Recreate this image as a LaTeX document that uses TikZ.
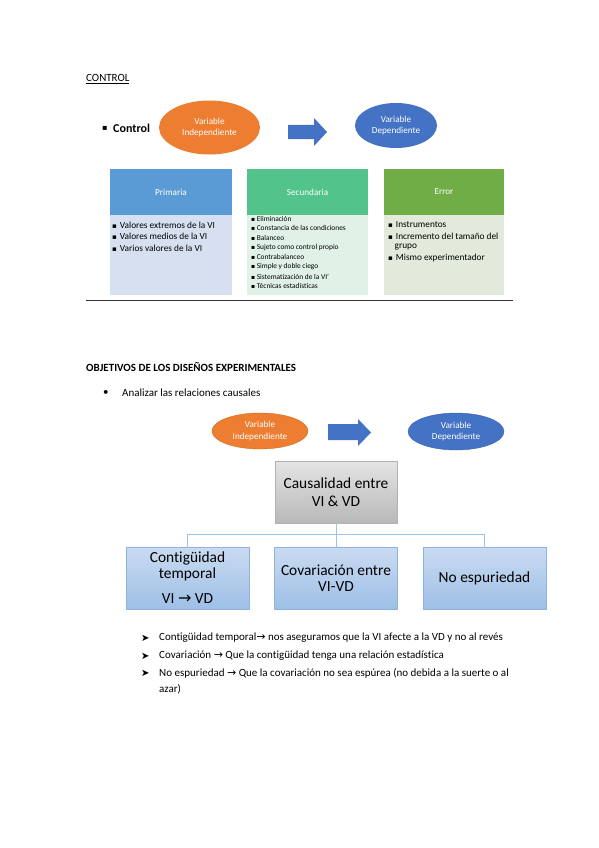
\documentclass[tikz,border=0pt]{standalone}
\usepackage{fontspec}
\setmainfont{Carlito}[Ligatures=NoCommon]
\newfontfamily\djv{DejaVu Sans}
\usetikzlibrary{shapes.geometric}
\definecolor{orng}{HTML}{ED7D31}
\definecolor{orngd}{HTML}{D2691E}
\definecolor{blu}{HTML}{4472C4}
\definecolor{blud}{HTML}{3A62AE}
\definecolor{primh}{HTML}{5B9BD5}
\definecolor{primb}{HTML}{D7E0F0}
\definecolor{sech}{HTML}{52C48B}
\definecolor{secb}{HTML}{E0F1E8}
\definecolor{errh}{HTML}{70AD47}
\definecolor{errb}{HTML}{E2EADB}
\definecolor{conn}{HTML}{9DC3E6}
\definecolor{hbtop}{HTML}{CADBF1}
\definecolor{hbbot}{HTML}{9EBFE7}
\definecolor{hbdraw}{HTML}{8FB3E0}
\definecolor{gtop}{HTML}{E4E4E4}
\definecolor{gbot}{HTML}{B8B8B8}
\newcommand{\sqb}{{\djv\fontsize{7}{7}\selectfont ▪}}
\newcommand{\sqs}{{\djv\fontsize{6}{6}\selectfont ▪}}
\newcommand{\rarr}[1]{{\djv\fontsize{#1}{#1}\selectfont →}}
\begin{document}
\begin{tikzpicture}[x=1pt,y=-1pt,
  txt/.style={inner sep=0pt,anchor=west,text=black},
  ell/.style={ellipse,inner sep=0pt,text=white,align=center,font=\fontsize{9.2}{11.5}\selectfont},
  hdr/.style={rectangle,inner sep=0pt,text=white,font=\fontsize{9.2}{11}\selectfont},
  bodyb/.style={rectangle,inner sep=0pt},
  itm/.style={inner sep=0pt,anchor=west,text=black},
  hbox/.style={rectangle,inner sep=0pt,minimum width=123pt,minimum height=62pt,align=center,
     top color=hbtop,bottom color=hbbot,draw=hbdraw,line width=0.5pt,
     font=\fontsize{15.4}{16}\selectfont},
  cn/.style={draw=conn,line width=0.9pt}
]
\useasboundingbox[fill=white] (0,0) rectangle (599,848);

% ---------- CONTROL section ----------
\node[txt] (ctitle) at (86,79) {\fontsize{11}{13}\selectfont\underline{CONTROL}};
\node[txt] (ctrlb) at (102,128.5) {{\djv\fontsize{8}{8}\selectfont ▪}};
\node[txt] (ctrl) at (113,128) {\fontsize{12}{14}\selectfont\textbf{Control}};

\node[ell,fill=orng,minimum width=101pt,minimum height=54pt] (vi1) at (209.5,127.5) {Variable\\Independiente};
\node[ell,fill=blu,minimum width=82pt,minimum height=45pt] (vd1) at (396,125.5) {Variable\\Dependiente};
\fill[blu] (288,125) -- (314,125) -- (314,118) -- (327,132) -- (314,146) -- (314,139) -- (288,139) -- cycle;

% boxes
\node[hdr,fill=primh,minimum width=122pt,minimum height=46pt] (prh) at (171,192) {Primaria};
\node[bodyb,fill=primb,minimum width=122pt,minimum height=80pt,anchor=north] (prb) at (prh.south) {};
\node[hdr,fill=sech,minimum width=121pt,minimum height=46pt] (seh) at (307.5,192) {Secundaria};
\node[bodyb,fill=secb,minimum width=121pt,minimum height=80pt,anchor=north] (seb) at (seh.south) {};
\node[hdr,fill=errh,minimum width=120pt,minimum height=46pt] (erh) at (444,192) {Error};
\node[bodyb,fill=errb,minimum width=120pt,minimum height=80pt,anchor=north] (erb) at (erh.south) {};

\begin{scope}[font=\fontsize{9.3}{11}\selectfont]
\node[itm] (p1) at (112,225) {\sqb\hspace{3pt}Valores extremos de la VI};
\node[itm] (p2) at (112,236.5) {\sqb\hspace{3pt}Valores medios de la VI};
\node[itm] (p3) at (112,248) {\sqb\hspace{3pt}Varios valores de la VI};
\node[itm] (e1) at (388,225) {\sqb\hspace{3pt}Instrumentos};
\node[itm] (e2) at (388,236.5) {\sqb\hspace{3pt}Incremento del tamaño del};
\node[itm] (e2b) at (394.5,247) {grupo};
\node[itm] (e3) at (388,258) {\sqb\hspace{3pt}Mismo experimentador};
\end{scope}
\begin{scope}[font=\fontsize{7.4}{9}\selectfont]
\node[itm] (s1) at (251,218.5) {\sqs\hspace{1.5pt}Eliminación};
\node[itm] (s2) at (251,228.2) {\sqs\hspace{1.5pt}Constancia de las condiciones};
\node[itm] (s3) at (251,237.9) {\sqs\hspace{1.5pt}Balanceo};
\node[itm] (s4) at (251,247.6) {\sqs\hspace{1.5pt}Sujeto como control propio};
\node[itm] (s5) at (251,257.3) {\sqs\hspace{1.5pt}Contrabalanceo};
\node[itm] (s6) at (251,267) {\sqs\hspace{1.5pt}Simple y doble ciego};
\node[itm] (s7) at (251,276.7) {\sqs\hspace{1.5pt}Sistematización de la VI'};
\node[itm] (s8) at (251,286.4) {\sqs\hspace{1.5pt}Técnicas estadísticas};
\end{scope}

\coordinate (rl) at (86,300);
\coordinate (rr) at (513,300);
\draw[line width=0.8pt,black!80] (rl) -- (rr);

% ---------- OBJETIVOS section ----------
\node[txt] (otitle) at (86,367) {\fontsize{11}{13}\selectfont\textbf{OBJETIVOS DE LOS DISEÑOS EXPERIMENTALES}};
\node[txt] (ob) at (103,393) {\fontsize{11}{13}\selectfont•};
\node[txt] (an) at (122,393) {\fontsize{11}{13}\selectfont Analizar las relaciones causales};

\node[ell,fill=orng,draw=orngd,line width=0.4pt,minimum width=96pt,minimum height=36pt] (vi2) at (260,431) {Variable\\Independiente};
\node[ell,fill=blu,draw=blud,line width=0.4pt,minimum width=96pt,minimum height=37pt] (vd2) at (456,431.5) {Variable\\Dependiente};
\fill[blu] (328,424) -- (358,424) -- (358,419) -- (371,432.5) -- (358,446) -- (358,440) -- (328,440) -- cycle;

\node[hbox,minimum width=122pt,top color=gtop,bottom color=gbot,draw=gray!60,font=\fontsize{15.4}{18}\selectfont] (cau) at (336,492) {Causalidad entre\\VI \& VD};
\node[hbox] (b1) at (187.5,578) {Contigüidad\\temporal\\[9pt]VI \rarr{16} VD};
\node[hbox] (b2) at (336,578) {Covariación entre\\VI-VD};
\node[hbox] (b3) at (484.5,578) {No espuriedad};

\draw[cn] (cau.south) -- ++(0,11) -| (b1.north);
\draw[cn] (cau.south) -- ++(0,11) -| (b3.north);
\draw[cn] (cau.south) -- (b2.north);

% ---------- bottom bullets ----------
\begin{scope}[font=\fontsize{11}{13}\selectfont]
\node[txt] (a1) at (141,638) {{\djv\fontsize{10}{10}\selectfont ➤}};
\node[txt] (t1) at (159,638) {Contigüidad temporal\rarr{11} nos aseguramos que la VI afecte a la VD y no al revés};
\node[txt] (a2) at (141,656) {{\djv\fontsize{10}{10}\selectfont ➤}};
\node[txt] (t2) at (159,656) {Covariación \rarr{11} Que la contigüidad tenga una relación estadística};
\node[txt] (a3) at (141,673) {{\djv\fontsize{10}{10}\selectfont ➤}};
\node[txt] (t3) at (159,673) {No espuriedad \rarr{11} Que la covariación no sea espúrea (no debida a la suerte o al};
\node[txt] (t4) at (159,689.5) {azar)};
\end{scope}
\end{tikzpicture}
\end{document}
